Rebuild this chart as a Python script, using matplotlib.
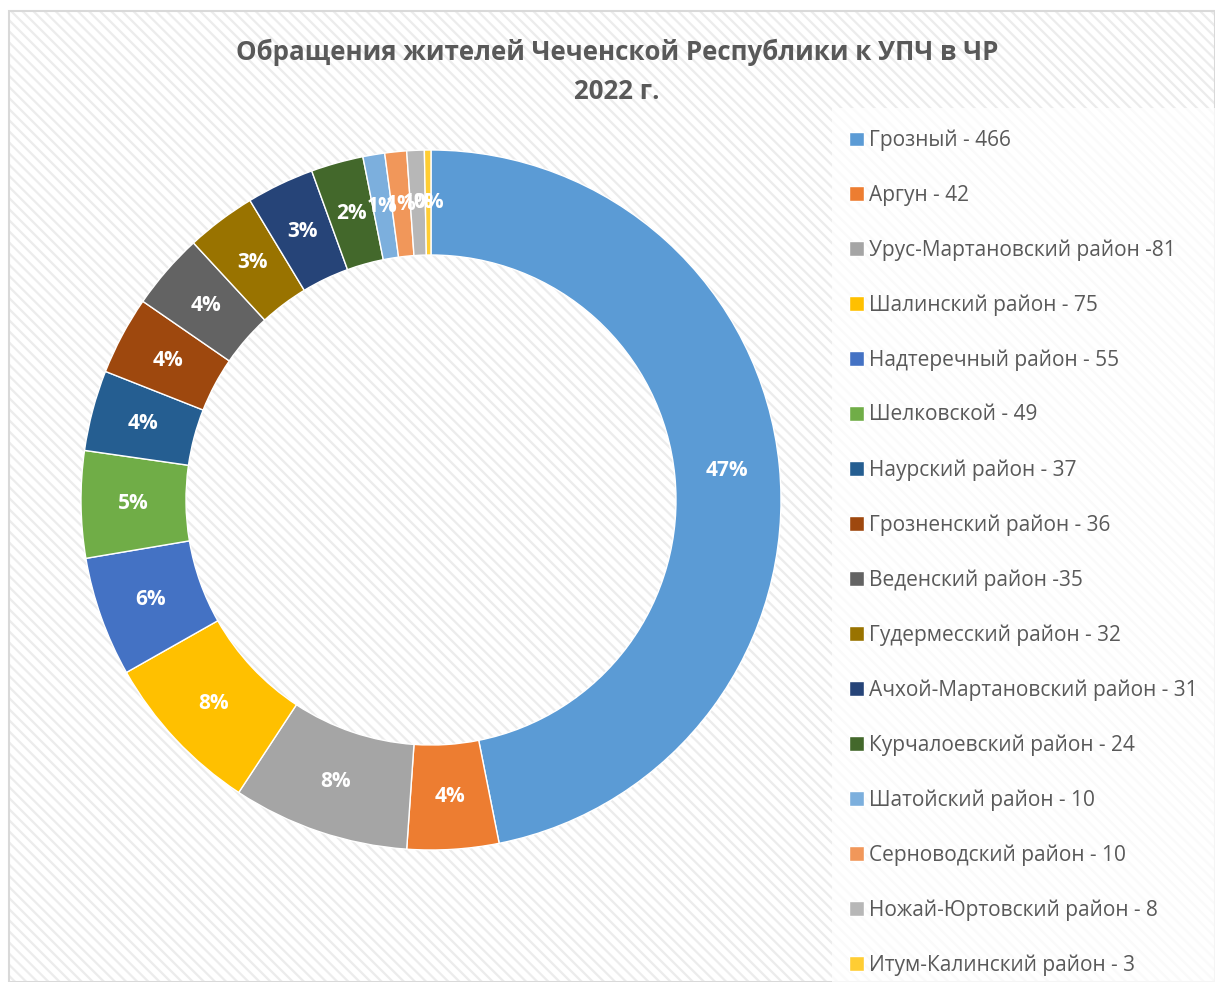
import matplotlib
matplotlib.use("Agg")
import matplotlib.pyplot as plt
from matplotlib.patches import Rectangle

plt.rcParams["font.family"] = ["Open Sans", "DejaVu Sans"]
plt.rcParams["hatch.linewidth"] = 1.6

# данные с диаграммы
districts = [
    "Грозный - 466", "Аргун - 42", "Урус-Мартановский район -81",
    "Шалинский район - 75", "Надтеречный район - 55", "Шелковской - 49",
    "Наурский район - 37", "Грозненский район - 36", "Веденский район -35",
    "Гудермесский район - 32", "Ачхой-Мартановский район - 31",
    "Курчалоевский район - 24", "Шатойский район - 10",
    "Серноводский район - 10", "Ножай-Юртовский район - 8",
    "Итум-Калинский район - 3",
]
counts = [466, 42, 81, 75, 55, 49, 37, 36, 35, 32, 31, 24, 10, 10, 8, 3]
colors = ["#5B9BD5", "#ED7D31", "#A5A5A5", "#FFC000", "#4472C4", "#70AD47",
          "#255E91", "#9E480E", "#636363", "#997300", "#264478", "#43682B",
          "#7CAFDD", "#F1975A", "#B7B7B7", "#FFCD33"]
title = "Обращения жителей Чеченской Республики к УПЧ в ЧР\n2022 г."

W, H = 1215, 982
fig = plt.figure(figsize=(W / 100, H / 100), dpi=100)

# фон: рамка с диагональной штриховкой
fig.patches.append(Rectangle((9 / W, 0), 1 - 9 / W, 1 - 11 / H, transform=fig.transFigure,
                             facecolor="white", edgecolor="#ececec", hatch="\\\\\\",
                             lw=0, zorder=-3))
fig.patches.append(Rectangle((9 / W, 0), 1 - 9 / W, 1 - 11 / H, transform=fig.transFigure,
                             facecolor="none", edgecolor="#d9d9d9", lw=1.5, zorder=-3))
# светлая подложка легенды
fig.patches.append(Rectangle((832 / W, 0), 1 - 832 / W, 1 - 108 / H, transform=fig.transFigure,
                             facecolor="white", edgecolor="none", alpha=0.75, zorder=-2))

cx, cy, r = 431, 982 - 500, 350
ax = fig.add_axes([(cx - r) / W, (cy - r) / H, 2 * r / W, 2 * r / H])
ax.set_facecolor("none")

wedges, _, autotexts = ax.pie(
    counts, colors=colors, startangle=90, counterclock=False, radius=1.0,
    wedgeprops=dict(width=0.3, edgecolor="white", linewidth=1),
    autopct=lambda p: f"{p:.0f}%", pctdistance=0.85,
    textprops=dict(color="white", fontsize=15, fontweight="bold"),
)
ax.set_xlim(-1, 1)
ax.set_ylim(-1, 1)
ax.set_aspect("equal")
ax.axis("off")

fig.text(617 / W, 1 - 72 / H, title, ha="center", va="center", fontsize=18.6,
         fontweight="bold", color="#595959", linespacing=1.6)

leg = fig.legend(wedges, districts, loc="upper left",
                 bbox_to_anchor=(830 / W, 1 - 111 / H), frameon=False,
                 fontsize=15, labelcolor="#595959", handlelength=0.72,
                 handleheight=0.72, handletextpad=0.25, labelspacing=1.61)

fig.savefig("out.png", dpi=100)
